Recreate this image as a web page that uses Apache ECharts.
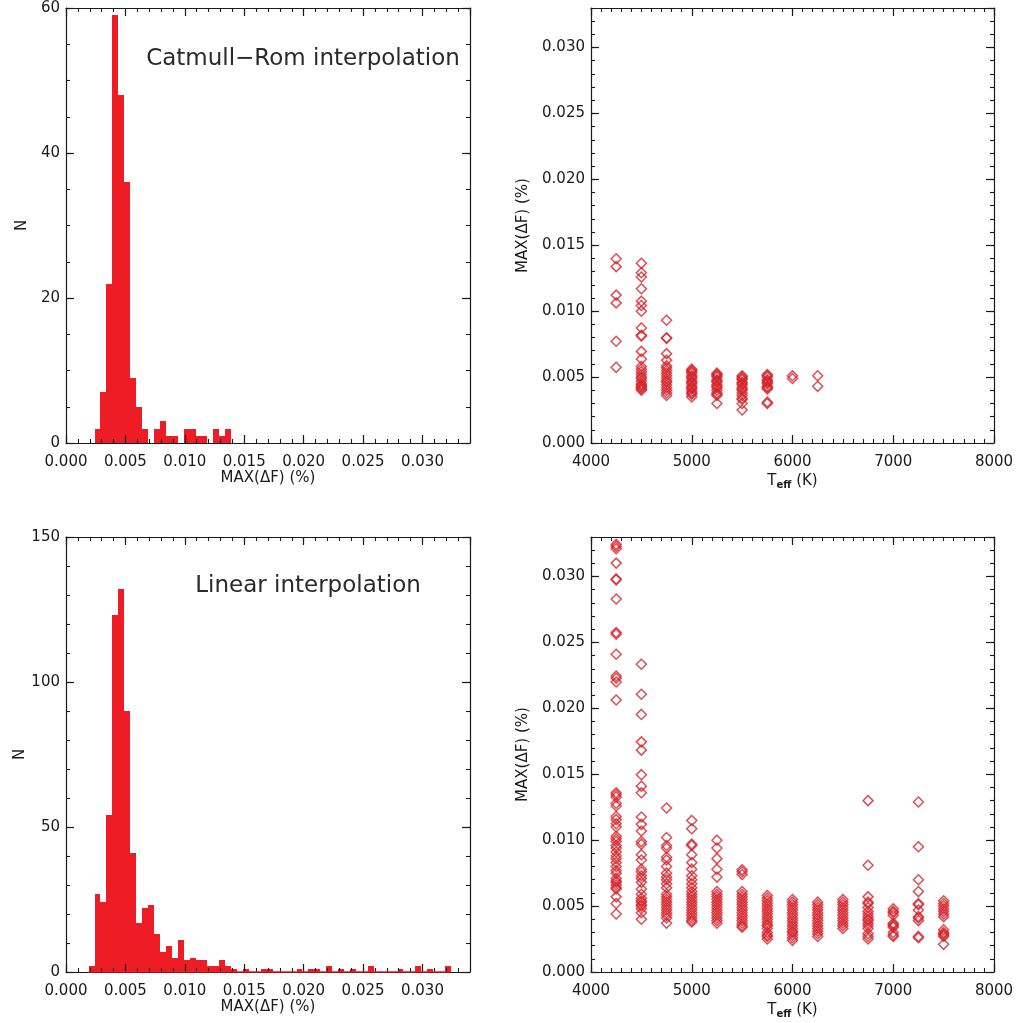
<!DOCTYPE html>
<html>
<head>
<meta charset="utf-8">
<script src="https://cdn.jsdelivr.net/npm/echarts@6/dist/echarts.min.js"></script>
<style>
html,body{margin:0;padding:0;background:#fff;}
#chart{width:1019px;height:1023px;}
</style>
</head>
<body>
<div id="chart"></div>
<script>
// ---------------- DATA ----------------
const binWidth = 0.0005;
// Catmull-Rom histogram (counts per bin, first bin starts at catmullBinStart)
const catmullBinStart = 0.0024;
const catmullCounts = [2,7,22,59,48,36,9,5,2,0,2,3,1,1,0,2,2,1,1,0,2,1,2];
// Linear histogram
const linearBinStart = 0.0019;
const linearCounts = [2,27,24,54,123,132,90,41,17,22,
  23,13,7,9,5,11,4,5,4,4,
  2,2,4,2,1,0,1,0,0,1,
  1,0,0,0,0,1,0,1,1,0,
  2,0,1,0,1,0,0,2,0,0,
  0,0,1,0,0,2,0,1,0,0,
  2];

// Scatter: Teff columns and MAX(dF) values (%)
const catmullTeff = [4250,4500,4750,5000,5250,5500,5750,6000,6250];
const catmullMaxDF = [
  [0.01398,0.01338,0.01122,0.01063,0.00772,0.00574],
  [0.01363,0.01292,0.01259,0.0117,0.01076,0.01043,0.0100,0.00873,0.00817,0.00812,0.00695,0.00637,0.00581,0.0056,0.0054,0.0052,0.0050,0.0049,0.0047,0.0045,0.0044,0.0043,0.0042,0.0041,0.0040],
  [0.00931,0.00794,0.00798,0.00678,0.00627,0.00586,0.0057,0.0055,0.0053,0.0051,0.0049,0.0047,0.0046,0.0044,0.0042,0.0040,0.0038,0.0036],
  [0.0056,0.0055,0.0054,0.0053,0.0051,0.0050,0.0049,0.0047,0.0046,0.0045,0.0043,0.0042,0.0041,0.0039,0.0038,0.0037,0.0035],
  [0.0053,0.0052,0.0051,0.0050,0.0048,0.0047,0.0046,0.0044,0.0043,0.0042,0.0040,0.0038,0.0037,0.0036,0.0030],
  [0.0051,0.0050,0.0049,0.0048,0.0046,0.0045,0.0044,0.0042,0.0041,0.0040,0.0038,0.0036,0.0034,0.0033,0.0030,0.0025],
  [0.0052,0.0051,0.0050,0.0048,0.0047,0.0046,0.0045,0.0043,0.0042,0.0041,0.0031,0.0030],
  [0.0051,0.0049],
  [0.0051,0.0043]
];
const linearTeff = [4250,4500,4750,5000,5250,5500,5750,6000,6250,6500,6750,7000,7250,7500];
const linearMaxDF = [
  [0.03244,0.03228,0.03211,0.03102,0.02982,0.02975,0.0283,0.02576,0.02563,0.02411,0.02246,0.02228,0.022,0.02063,0.0136,0.01345,0.01327,0.0128,0.0126,0.0118,0.01156,0.01125,0.011,0.0103,0.0101,0.0099,0.0096,0.0094,0.0091,0.0088,0.0086,0.0083,0.0080,0.0077,0.0075,0.0071,0.0069,0.0068,0.0066,0.0064,0.0063,0.0057,0.0052,0.0044],
  [0.02335,0.02107,0.01954,0.01746,0.01683,0.01497,0.0141,0.0136,0.01176,0.0112,0.0107,0.0099,0.0097,0.0089,0.0085,0.0078,0.0076,0.0073,0.0071,0.0068,0.0063,0.0059,0.0056,0.0054,0.0053,0.0051,0.0050,0.0048,0.0045,0.0040],
  [0.01244,0.0102,0.0096,0.0094,0.0087,0.0085,0.0080,0.0075,0.0072,0.0070,0.0067,0.0064,0.0059,0.0057,0.0055,0.0053,0.0051,0.0049,0.0047,0.0045,0.0043,0.0041,0.0037],
  [0.0115,0.01087,0.0097,0.0096,0.0089,0.0083,0.0078,0.0073,0.0070,0.0067,0.0064,0.0061,0.0059,0.0057,0.0055,0.0053,0.0051,0.0049,0.0047,0.0045,0.0043,0.0041,0.0039,0.0038],
  [0.0100,0.0094,0.0086,0.0078,0.0072,0.0061,0.0059,0.0057,0.0055,0.0053,0.0051,0.0049,0.0047,0.0045,0.0043,0.0041,0.0039,0.0037],
  [0.00776,0.0076,0.0074,0.0061,0.0059,0.0057,0.0055,0.0053,0.0051,0.0049,0.0047,0.0045,0.0043,0.0041,0.0039,0.0037,0.0035,0.0034],
  [0.0058,0.0056,0.0054,0.0052,0.0050,0.0048,0.0046,0.0044,0.0042,0.0040,0.0038,0.0036,0.0035,0.0033,0.0030,0.0028,0.0027,0.0025],
  [0.0055,0.0053,0.0051,0.0049,0.0047,0.0045,0.0043,0.0041,0.0039,0.0037,0.0035,0.0033,0.0031,0.0030,0.0028,0.0026,0.0024],
  [0.0053,0.0051,0.0049,0.0047,0.0045,0.0043,0.0041,0.0039,0.0037,0.0035,0.0033,0.0031,0.0029,0.0027],
  [0.0055,0.0053,0.0051,0.0049,0.0047,0.0045,0.0043,0.0041,0.0039,0.0037,0.0035,0.0033],
  [0.0130,0.0081,0.0057,0.0053,0.0052,0.0049,0.0046,0.0044,0.0042,0.0040,0.0039,0.0037,0.0035,0.0033,0.0029,0.0027,0.0025],
  [0.0048,0.0046,0.0045,0.0043,0.0037,0.0036,0.0035,0.0034,0.0030,0.0028,0.0027],
  [0.0129,0.0095,0.0070,0.0061,0.0052,0.0051,0.0047,0.0042,0.0041,0.0039,0.0027,0.0026],
  [0.0054,0.0052,0.0050,0.0048,0.0046,0.0044,0.0042,0.0032,0.0030,0.0029,0.0028,0.0027,0.0021]
];

const panelTitles = ['Catmull\u2212Rom interpolation', 'Linear interpolation'];
const xNameHist = 'MAX(\u0394F) (%)';
const yNameHist = 'N';
const yNameScatter = 'MAX(\u0394F) (%)';

// ---------------- BUILD ----------------
const FONT = 'DejaVu Sans';
const BAR = '#ee1c25';
const MARK = '#d4232b';
const INK = '#1a1a1a';

function histData(start, counts) {
  return counts.map((c, i) => [start + i * binWidth, start + (i + 1) * binWidth, c]);
}
function scatterData(teffs, vals) {
  const out = [];
  teffs.forEach((t, i) => vals[i].forEach(v => out.push([t, v])));
  return out;
}

const grids = [
  {left: 66, top: 8, width: 404, height: 435},
  {left: 591, top: 8, width: 403, height: 435},
  {left: 66, top: 537, width: 404, height: 435},
  {left: 591, top: 537, width: 403, height: 435}
];

const xAxes = [], yAxes = [];
function addAxes(list, dim, gi, min, max, major, minor, fmt, name, nameGap, nameRich) {
  const posMain = dim === 'x' ? 'bottom' : 'left';
  const posOther = dim === 'x' ? 'top' : 'right';
  const mainIdx = list.length;
  const aligned = Math.abs(max / major - Math.round(max / major)) < 1e-9;
  [posMain, posOther].forEach(pos => {
    list.push({
      type: 'value', gridIndex: gi, position: pos, min: min, max: max, interval: major,
      splitLine: {show: false},
      axisLine: {show: true, onZero: false, lineStyle: {color: INK, width: 1.2}},
      axisTick: {show: true, inside: true, length: 8, lineStyle: {color: INK, width: 1.2}},
      axisLabel: {show: pos === posMain, formatter: fmt, color: INK, fontFamily: FONT, fontSize: 15,
        margin: dim === 'x' ? 12 : 6, showMaxLabel: aligned, showMinLabel: true},
      name: pos === posMain ? name : '',
      nameLocation: 'middle', nameGap: nameGap,
      nameTextStyle: {color: INK, fontFamily: FONT, fontSize: 15, rich: nameRich},
      z: 5
    });
    list.push({
      type: 'value', gridIndex: gi, position: pos, min: min, max: max, interval: minor,
      splitLine: {show: false},
      axisLine: {show: false, onZero: false},
      axisTick: {show: true, inside: true, length: 4, lineStyle: {color: INK, width: 1.1}},
      axisLabel: {show: false},
      z: 5
    });
  });
  return mainIdx;
}

const fmt3 = v => v.toFixed(3);
const fmt0 = v => String(Math.round(v));

const teffRich = {
  n: {fontSize: 15, fontFamily: FONT, color: INK},
  sub: {fontSize: 10, fontFamily: FONT, color: INK, fontWeight: 'bold', verticalAlign: 'bottom', padding: [8, 0, 0, 0]}
};

const x0 = addAxes(xAxes, 'x', 0, 0, 0.034, 0.005, 0.001, fmt3, xNameHist, 28);
const y0 = addAxes(yAxes, 'y', 0, 0, 60, 20, 5, fmt0, yNameHist, 36);
const x1 = addAxes(xAxes, 'x', 1, 4000, 8000, 1000, 100, fmt0, '{n|T}{sub|eff}{n| (K)}', 29, teffRich);
const y1 = addAxes(yAxes, 'y', 1, 0, 0.033, 0.005, 0.001, fmt3, yNameScatter, 60);
const x2 = addAxes(xAxes, 'x', 2, 0, 0.034, 0.005, 0.001, fmt3, xNameHist, 28);
const y2 = addAxes(yAxes, 'y', 2, 0, 150, 50, 10, fmt0, yNameHist, 36);
const x3 = addAxes(xAxes, 'x', 3, 4000, 8000, 1000, 100, fmt0, '{n|T}{sub|eff}{n| (K)}', 29, teffRich);
const y3 = addAxes(yAxes, 'y', 3, 0, 0.033, 0.005, 0.001, fmt3, yNameScatter, 60);

function histSeries(xi, yi, start, counts) {
  return {
    type: 'custom', xAxisIndex: xi, yAxisIndex: yi,
    data: histData(start, counts),
    encode: {x: [0, 1], y: 2},
    renderItem: function (params, api) {
      if (api.value(2) <= 0) return null;
      const a = api.coord([api.value(0), api.value(2)]);
      const b = api.coord([api.value(1), 0]);
      const xl = Math.round(a[0]), xr = Math.round(b[0]);
      const yt = Math.round(a[1]), yb = Math.round(b[1]);
      return {type: 'rect', shape: {x: xl, y: yt, width: xr - xl, height: yb - yt},
        style: {fill: BAR}};
    },
    z: 2, silent: true
  };
}
function baseLine(xi, yi, start, counts) {
  return {
    type: 'line', xAxisIndex: xi, yAxisIndex: yi,
    data: [[start, 0], [start + counts.length * binWidth, 0]],
    symbol: 'none', lineStyle: {color: BAR, width: 1.5}, z: 6, silent: true
  };
}
function scatterSeries(xi, yi, teffs, vals) {
  return {
    type: 'scatter', xAxisIndex: xi, yAxisIndex: yi,
    data: scatterData(teffs, vals),
    symbol: 'diamond', symbolSize: [10, 10],
    itemStyle: {color: 'rgba(0,0,0,0)', borderColor: MARK, borderWidth: 1.5},
    z: 3, silent: true
  };
}

const option = {
  animation: false,
  backgroundColor: '#ffffff',
  textStyle: {fontFamily: FONT},
  grid: grids,
  xAxis: xAxes,
  yAxis: yAxes,
  series: [
    histSeries(x0, y0, catmullBinStart, catmullCounts),
    histSeries(x2, y2, linearBinStart, linearCounts),
    baseLine(x2, y2, linearBinStart, linearCounts),
    scatterSeries(x1, y1, catmullTeff, catmullMaxDF),
    scatterSeries(x3, y3, linearTeff, linearMaxDF)
  ],
  graphic: [
    {type: 'text', x: 303, y: 59, style: {text: panelTitles[0], font: '23px "DejaVu Sans"', fill: '#2a2a2a', align: 'center', verticalAlign: 'middle'}},
    {type: 'text', x: 308, y: 586, style: {text: panelTitles[1], font: '23px "DejaVu Sans"', fill: '#2a2a2a', align: 'center', verticalAlign: 'middle'}}
  ]
};

const chart = echarts.init(document.getElementById('chart'), null, {renderer: 'canvas'});
chart.setOption(option);
</script>
</body>
</html>
